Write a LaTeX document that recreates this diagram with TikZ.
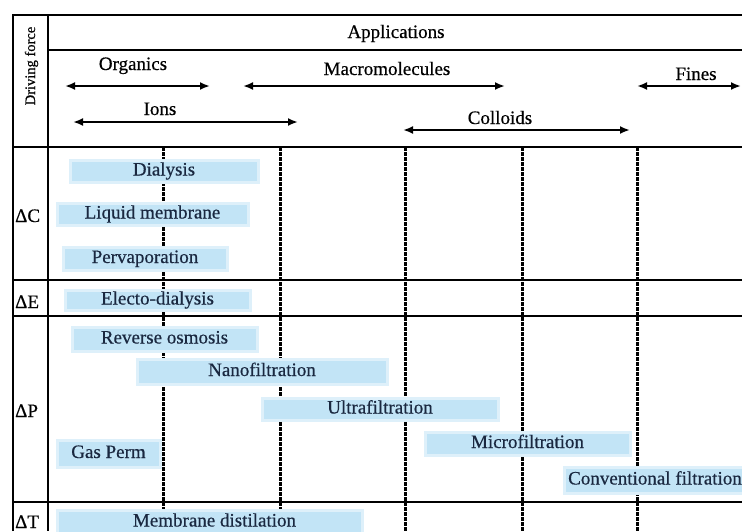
\documentclass[tikz,border=0pt]{standalone}
\usepackage{fontspec}
\setmainfont{Liberation Serif}[FakeBold=0.5]
\usetikzlibrary{arrows.meta}
\definecolor{barfill}{RGB}{194,228,246}
\definecolor{barhalo}{RGB}{222,240,250}
\definecolor{bartext}{RGB}{26,40,64}
\begin{document}
\begin{tikzpicture}[x=1pt,y=-1pt,
  frame/.style={line width=2.2pt},
  thinframe/.style={line width=1.4pt},
  sizeline/.style={line width=3pt, dash pattern=on 3.5pt off 1.5pt},
  rangearrow/.style={line width=2.3pt,{Latex[length=10pt,width=8pt]}-{Latex[length=10pt,width=8pt]}},
  hdr/.style={font=\fontsize{19}{21}\selectfont, inner sep=0pt, anchor=base},
  rowlbl/.style={font=\fontsize{19}{21}\selectfont, inner sep=0pt, anchor=base west},
  bar/.style={fill=barfill, draw=barhalo, line width=3pt, inner sep=0pt,
    text=bartext, font=\fontsize{19}{21}\selectfont, text height=13pt, text depth=4pt}
]
\useasboundingbox (0,0) rectangle (742,531);
\fill[white] (0,0) rectangle (742,531);

% dashed size boundaries
\foreach \xx/\nm in {163/a,280/b,405/c,522/d,637/e}{
  \coordinate (top\nm) at (\xx,147);
  \coordinate (bot\nm) at (\xx,531);
  \draw[sizeline] (top\nm) -- (bot\nm);
}

% frame
\coordinate (fTL) at (13,15);
\coordinate (fTR) at (742,15);
\coordinate (fBL) at (13,531);
\coordinate (gT) at (48,15);
\coordinate (gB) at (48,531);
\draw[frame] (fBL) -- (fTL) -- (fTR);
\draw[frame] (gT) -- (gB);
\coordinate (h1L) at (48,50);   \coordinate (h1R) at (742,50);
\coordinate (h2L) at (13,147);  \coordinate (h2R) at (742,147);
\coordinate (h3L) at (13,280);  \coordinate (h3R) at (742,280);
\coordinate (h4L) at (13,316);  \coordinate (h4R) at (742,316);
\coordinate (h5L) at (13,502);  \coordinate (h5R) at (742,502);
\draw[frame] (h1L) -- (h1R);
\draw[frame] (h2L) -- (h2R);
\draw[frame] (h3L) -- (h3R);
\draw[thinframe] (h4L) -- (h4R);
\draw[frame] (h5L) -- (h5R);

% header texts
\node[hdr] (apps) at (396,38) {Applications};
\node[font=\fontsize{14.5}{16}\selectfont, inner sep=0pt, anchor=base, rotate=90] (drive) at (35,66) {Driving force};
\node[hdr] (org) at (133,70) {Organics};
\node[hdr] (macro) at (387,75) {Macromolecules};
\node[hdr] (fines) at (696,80) {Fines};
\node[hdr] (ions) at (160,115) {Ions};
\node[hdr] (coll) at (500,124) {Colloids};

% range arrows
\coordinate (orgL) at (65,86);   \coordinate (orgR) at (210,86);
\coordinate (macL) at (243,86);  \coordinate (macR) at (505,86);
\coordinate (finL) at (637,86);  \coordinate (finR) at (741,86);
\coordinate (ionL) at (73,122);  \coordinate (ionR) at (298,122);
\coordinate (colL) at (403,130); \coordinate (colR) at (630,130);
\draw[rangearrow] (orgL) -- (orgR);
\draw[rangearrow] (macL) -- (macR);
\draw[rangearrow] (finL) -- (finR);
\draw[rangearrow] (ionL) -- (ionR);
\draw[rangearrow] (colL) -- (colR);

% row labels
\node[rowlbl] (dC) at (15,222) {ΔC};
\node[rowlbl] (dE) at (15,308) {ΔE};
\node[rowlbl] (dP) at (15,417) {ΔP};
\node[rowlbl] (dT) at (15,528) {ΔT};

% process bars
\node[bar, minimum width=188pt, minimum height=22pt] (dia)  at (164,171) {Dialysis};
\node[bar, minimum width=191pt, minimum height=22pt] (liq)  at (152.5,214) {Liquid membrane\hspace{4pt}};
\node[bar, minimum width=164pt, minimum height=23pt] (perv) at (145,258.5) {Pervaporation\hspace{8pt}};
\node[bar, minimum width=185pt, minimum height=20pt] (elec) at (157.5,300) {Electo-dialysis};
\node[bar, minimum width=185pt, minimum height=24pt] (rev)  at (164.5,339) {Reverse osmosis\hspace{9pt}};
\node[bar, minimum width=250pt, minimum height=25pt] (nano) at (262,371.5) {Nanofiltration};
\node[bar, minimum width=236pt, minimum height=22pt] (ultra) at (380,409) {Ultrafiltration\hspace{14pt}};
\node[bar, minimum width=103pt, minimum height=27pt] (gas)  at (108.5,453.5) {Gas Perm\hspace{3pt}};
\node[bar, minimum width=205pt, minimum height=23pt] (micro) at (527.5,443.5) {Microfiltration};
\node[bar, minimum width=182pt, minimum height=26pt] (conv) at (655,480) {Conventional filtration};
\node[bar, minimum width=305pt, minimum height=24pt] (memb) at (209.5,522) {\hspace{10pt}Membrane distilation};

\end{tikzpicture}
\end{document}
